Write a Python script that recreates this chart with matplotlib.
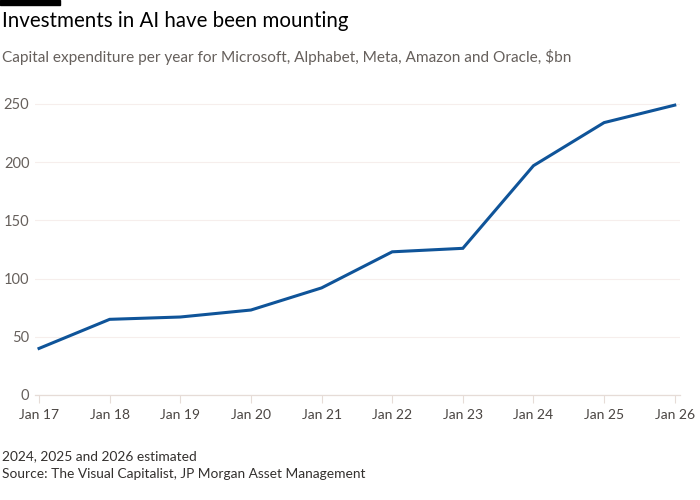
import matplotlib.pyplot as plt

# data
years = ['Jan 17', 'Jan 18', 'Jan 19', 'Jan 20', 'Jan 21',
         'Jan 22', 'Jan 23', 'Jan 24', 'Jan 25', 'Jan 26']
capex = [40, 65, 67, 73, 92, 123, 126, 197, 234, 249]
y_ticks = [0, 50, 100, 150, 200, 250]

plt.rcParams['font.family'] = ['Lato', 'DejaVu Sans']

fig = plt.figure(figsize=(7, 5), dpi=100)
fig.patch.set_facecolor('white')

ax = fig.add_axes([0.05, 0.21, 0.921, 0.61])
x = list(range(len(years)))
ax.plot(x, capex, color='#0f5499', linewidth=2.2, solid_joinstyle='miter', zorder=3)

# axes styling
ax.set_xlim(-0.057, len(years) - 1 + 0.07)
ax.set_ylim(0, 262)
ax.set_yticks(y_ticks)
ax.set_xticks(x)
ax.set_xticklabels(years)
for side in ['top', 'right', 'left']:
    ax.spines[side].set_visible(False)
ax.spines['bottom'].set_color('#e6dcd7')
ax.spines['bottom'].set_linewidth(0.9)
ax.grid(axis='y', color='#f6eeec', linewidth=0.8)
ax.set_axisbelow(True)
ax.tick_params(axis='y', length=0, pad=4, labelsize=10.5, labelcolor='#66605c')
ax.tick_params(axis='x', length=6, width=0.8, color='#e6dcd7', pad=4,
               labelsize=10, labelcolor='#4a4542')

# titles and notes
fig.add_artist(plt.Rectangle((0, 0.991), 0.086, 0.009, color='black',
                             transform=fig.transFigure))
fig.text(0.003, 0.958, 'Investments in AI have been mounting', fontsize=14.8,
         color='#000000', va='center', ha='left')
fig.text(0.003, 0.886, 'Capital expenditure per year for Microsoft, Alphabet, Meta, '
         'Amazon and Oracle, $bn', fontsize=11.1, color='#66605c', va='center', ha='left')
fig.text(0.003, 0.087, '2024, 2025 and 2026 estimated', fontsize=9.9,
         color='#33302e', va='center', ha='left')
fig.text(0.003, 0.051, 'Source: The Visual Capitalist, JP Morgan Asset Management',
         fontsize=9.9, color='#33302e', va='center', ha='left')

fig.savefig('out.png', dpi=100, facecolor='white')
